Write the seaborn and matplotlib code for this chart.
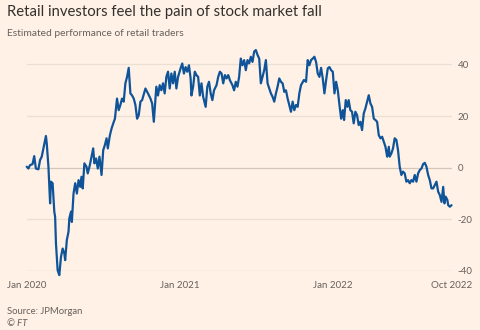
import matplotlib
matplotlib.use("Agg")
import matplotlib.pyplot as plt
import matplotlib.dates as mdates
import pandas as pd
import seaborn as sns

# ---- data ----
start_date = "2020-01-01"
end_date = "2022-10-14"
days = [
    0, 4, 8, 14, 18, 22, 28, 32, 36, 40, 46, 48, 52, 56, 58, 62, 66, 68, 70, 74,
    78, 82, 86, 90, 92, 96, 100, 102, 106, 108, 112, 116, 120, 124, 128, 131, 134, 138, 143, 146,
    151, 155, 159, 162, 166, 170, 174, 179, 183, 187, 191, 194, 199, 203, 207, 211, 216, 220, 224, 228,
    232, 236, 240, 244, 248, 252, 256, 260, 264, 268, 272, 276, 284, 290, 296, 300, 304, 306, 310, 314,
    318, 322, 326, 330, 334, 338, 342, 346, 350, 354, 358, 362, 368, 372, 376, 380, 384, 388, 392, 394,
    398, 402, 406, 410, 414, 418, 422, 428, 432, 436, 440, 444, 448, 454, 458, 462, 466, 470, 474, 478,
    482, 486, 492, 496, 500, 504, 508, 512, 516, 520, 524, 528, 532, 536, 540, 544, 548, 552, 556, 560,
    564, 568, 572, 576, 580, 584, 588, 592, 596, 600, 604, 608, 612, 616, 620, 624, 628, 632, 636, 640,
    644, 648, 652, 656, 663, 668, 672, 676, 680, 684, 688, 692, 696, 700, 704, 708, 712, 716, 720, 724,
    728, 732, 736, 740, 744, 748, 752, 756, 759, 763, 767, 770, 774, 778, 782, 786, 790, 794, 798, 802,
    806, 810, 814, 818, 822, 826, 830, 834, 838, 842, 846, 850, 854, 858, 862, 866, 868, 872, 876, 880,
    884, 888, 892, 896, 900, 904, 908, 912, 916, 920, 924, 928, 932, 936, 940, 944, 948, 952, 956, 960,
    964, 968, 972, 976, 980, 984, 988, 992, 996, 999, 1002, 1006, 1008, 1012, 1016,
]
performance = [
    0.4, -0.3, 1.0, 1.4, 4.5, -0.3, -0.6, 3.0, 4.3, 7.5, 12.3, 9.4, 0.4, -13.8, -5.4, -6.0, -17.0, -19.0, -29.3, -39.7,
    -41.6, -34.5, -31.3, -33.2, -35.8, -28.0, -24.8, -19.6, -17.0, -21.0, -10.0, -6.0, -10.0, -4.8, -7.4, -3.5, -8.0, 1.7, 0.4, -2.2,
    1.0, 4.3, 7.5, 1.7, 3.6, -0.3, 4.3, -2.8, 6.8, 8.8, 11.4, 7.5, 12.6, 15.2, 17.2, 19.0, 26.8, 22.3, 24.3, 26.8,
    25.6, 32.7, 35.2, 38.7, 28.8, 28.0, 26.8, 24.3, 19.0, 20.4, 25.6, 26.2, 30.7, 28.8, 26.8, 24.9, 17.8, 22.3, 31.4, 28.0,
    32.0, 30.0, 32.7, 28.8, 35.2, 37.2, 30.7, 36.5, 32.7, 37.2, 30.7, 35.2, 38.5, 40.4, 36.5, 39.0, 37.2, 39.7, 34.6, 28.0,
    31.4, 37.2, 35.9, 35.2, 28.0, 32.7, 27.5, 23.6, 31.4, 33.3, 28.8, 26.2, 30.0, 32.0, 35.2, 37.2, 36.5, 32.7, 35.9, 34.6,
    35.9, 33.9, 32.0, 30.0, 33.3, 31.4, 35.2, 42.3, 39.7, 41.7, 37.8, 41.7, 40.4, 43.0, 41.0, 45.0, 45.6, 43.7, 42.3, 32.7,
    35.2, 37.8, 41.7, 32.7, 30.7, 28.8, 27.5, 25.6, 28.8, 31.4, 34.6, 33.3, 32.7, 29.4, 30.0, 26.8, 24.3, 21.7, 25.6, 22.3,
    24.3, 23.6, 28.8, 32.0, 34.0, 33.3, 41.7, 39.7, 41.7, 42.3, 43.0, 41.0, 36.5, 35.2, 38.7, 34.6, 28.8, 33.9, 38.5, 39.0,
    37.8, 37.2, 28.8, 33.3, 30.0, 24.3, 19.0, 22.3, 18.5, 26.2, 23.6, 26.2, 22.3, 21.7, 17.2, 21.7, 20.4, 16.5, 17.8, 14.6,
    21.0, 23.0, 25.6, 28.1, 24.9, 23.6, 19.0, 18.5, 17.8, 12.6, 11.4, 12.0, 10.0, 8.1, 4.3, 8.1, 4.3, 5.5, 7.5, 11.4,
    10.8, 6.8, 0.4, -2.8, -1.5, -2.2, -5.4, -4.8, -6.0, -4.8, -5.4, -2.8, -5.4, -2.2, -0.9, -0.3, 1.4, 1.9, 0.4, -2.8,
    -4.8, -8.0, -8.0, -6.7, -5.4, -9.3, -10.6, -13.2, -7.4, -13.8, -11.2, -12.5, -14.5, -15.1, -14.5,
]
x_tick_dates = ["2020-01-01", "2021-01-01", "2022-01-01", "2022-10-13"]
x_tick_labels = ["Jan 2020", "Jan 2021", "Jan 2022", "Oct 2022"]
y_ticks = [-40, -20, 0, 20, 40]

title = "Retail investors feel the pain of stock market fall"
subtitle = "Estimated performance of retail traders"
source = "Source: JPMorgan"
credit = "\u00a9 FT"

# ---- styling ----
BG = "#FFF1E5"
BLUE = "#0F5499"
GRID = "#EADFD4"
ZERO = "#D2C7BD"
TICK = "#CFC4BA"
TXT = "#33302E"
SUB = "#66605C"

dates = pd.Timestamp(start_date) + pd.to_timedelta(days, unit="D")
df = pd.DataFrame({"date": dates, "value": performance})

sns.set_theme(style="white")
plt.rcParams["font.family"] = ["Lato", "DejaVu Sans"]

fig = plt.figure(figsize=(4.8, 3.3), dpi=100, facecolor=BG)
ax = fig.add_axes([0.0556, 0.1788, 0.886, 0.6727])
ax.set_facecolor(BG)

sns.lineplot(data=df, x="date", y="value", ax=ax, color=BLUE, linewidth=1.6,
             clip_on=False, zorder=3)

ax.set_xlim(pd.Timestamp(start_date), pd.Timestamp(end_date))
ax.set_ylim(-40, 46)
ax.set_yticks(y_ticks)
ax.set_yticklabels([str(v) for v in y_ticks])
ax.yaxis.tick_right()
ax.tick_params(axis="y", length=0, pad=4, labelsize=7, labelcolor=SUB)
for v in y_ticks:
    ax.axhline(v, color=(ZERO if v in (0, -40) else GRID), lw=0.9, zorder=1)

ax.set_xticks(pd.to_datetime(x_tick_dates))
ax.set_xticklabels(x_tick_labels)
ax.xaxis.set_minor_locator(mdates.MonthLocator())
ax.tick_params(axis="x", which="major", length=5, width=0.8, color=TICK,
               pad=2.5, labelsize=7, labelcolor=SUB)
ax.tick_params(axis="x", which="minor", length=3.5, width=0.8, color=TICK)
ax.set_xlabel("")
ax.set_ylabel("")
for s in ax.spines.values():
    s.set_visible(False)

fig.text(0.0146, 0.9645, title, fontsize=10.7, color=TXT, va="center", ha="left")
fig.text(0.0146, 0.90, subtitle, fontsize=7.4, color=SUB, va="center", ha="left")
fig.text(0.0146, 0.0555, source, fontsize=6.8, color=SUB, va="center", ha="left")
fig.text(0.0146, 0.0203, credit, fontsize=6.8, color=SUB, va="center", ha="left",
         style="italic")

fig.savefig("out.png", dpi=100, facecolor=BG)
